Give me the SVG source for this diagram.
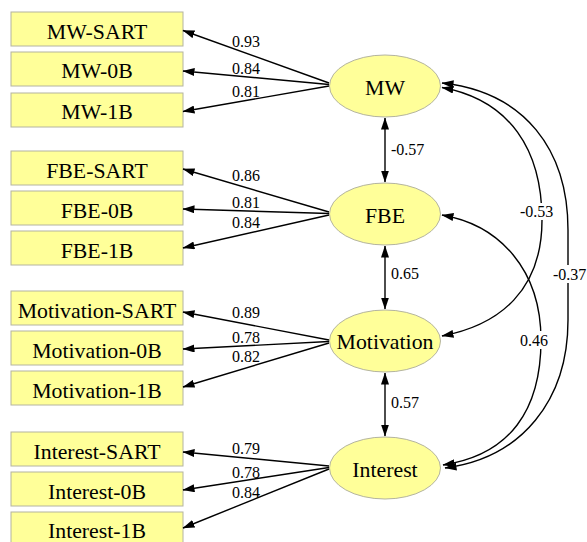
<svg xmlns="http://www.w3.org/2000/svg" width="587" height="542" viewBox="0 0 587 542">
<style>
.box{fill:#ffff99;stroke:#b4b4a0;stroke-width:1}
.ell{fill:#ffff99;stroke:#b4b4a0;stroke-width:1}
.nt{font-family:'Liberation Serif','Tinos','Times New Roman','DejaVu Serif',serif;font-size:21.8px;fill:#000;text-anchor:middle}
.el{font-family:'Liberation Serif','Tinos','Times New Roman','DejaVu Serif',serif;font-size:16px;fill:#000}
.e{fill:none;stroke:#000;stroke-width:1.4;marker-end:url(#ah)}
.d{fill:none;stroke:#000;stroke-width:1.4;marker-end:url(#ah);marker-start:url(#ah)}
.bg{fill:#fff}
</style>
<defs>
<marker id="ah" viewBox="0 0 12 8" refX="11.5" refY="4" markerWidth="12" markerHeight="8" markerUnits="userSpaceOnUse" orient="auto-start-reverse">
<path d="M0,0 L12,4 L0,8 z" fill="#000"/>
</marker>
</defs>
<rect width="587" height="542" fill="#fff"/>

<g id="n-mw-sart"><rect class="box" x="11" y="12" width="172" height="34"/><text class="nt" font-family="Liberation Serif, serif" x="97" y="39">MW-SART</text></g>
<g id="n-mw-0b"><rect class="box" x="11" y="52" width="172" height="34"/><text class="nt" font-family="Liberation Serif, serif" x="97" y="78">MW-0B</text></g>
<g id="n-mw-1b"><rect class="box" x="11" y="93" width="172" height="34"/><text class="nt" font-family="Liberation Serif, serif" x="97" y="119">MW-1B</text></g>

<g id="n-fbe-sart"><rect class="box" x="11" y="151" width="172" height="34"/><text class="nt" x="97" y="178">FBE-SART</text></g>
<g id="n-fbe-0b"><rect class="box" x="11" y="191" width="172" height="34"/><text class="nt" x="97" y="218">FBE-0B</text></g>
<g id="n-fbe-1b"><rect class="box" x="11" y="231" width="172" height="34"/><text class="nt" x="97" y="258">FBE-1B</text></g>

<g id="n-mot-sart"><rect class="box" x="11" y="291" width="172" height="34"/><text class="nt" x="97" y="318">Motivation-SART</text></g>
<g id="n-mot-0b"><rect class="box" x="11" y="331" width="172" height="34"/><text class="nt" x="97" y="358">Motivation-0B</text></g>
<g id="n-mot-1b"><rect class="box" x="11" y="371" width="172" height="34"/><text class="nt" x="97" y="398">Motivation-1B</text></g>

<g id="n-int-sart"><rect class="box" x="11" y="432" width="172" height="34"/><text class="nt" x="97" y="459">Interest-SART</text></g>
<g id="n-int-0b"><rect class="box" x="11" y="472" width="172" height="34"/><text class="nt" x="97" y="499">Interest-0B</text></g>
<g id="n-int-1b"><rect class="box" x="11" y="512" width="172" height="34"/><text class="nt" x="97" y="537.5">Interest-1B</text></g>

<g id="n-mw"><ellipse class="ell" cx="385" cy="86" rx="55.5" ry="31"/><text class="nt" x="385" y="95">MW</text></g>
<g id="n-fbe"><ellipse class="ell" cx="385" cy="214" rx="55.5" ry="31"/><text class="nt" x="385" y="223">FBE</text></g>
<g id="n-mot"><ellipse class="ell" cx="385" cy="341" rx="55.5" ry="31"/><text class="nt" x="385" y="349">Motivation</text></g>
<g id="n-int"><ellipse class="ell" cx="385" cy="468" rx="55.5" ry="31"/><text class="nt" x="385" y="477">Interest</text></g>

<g id="edges">
<path class="e" d="M329,83 L183,30.5"/>
<path class="e" d="M329,84.5 L183,71"/>
<path class="e" d="M329,86 L183,111.5"/>
<path class="e" d="M329,212 L183,169"/>
<path class="e" d="M329,213.5 L183,209"/>
<path class="e" d="M329,215 L183,248"/>
<path class="e" d="M329,340 L183,312"/>
<path class="e" d="M329,341.5 L183,349"/>
<path class="e" d="M329,343 L183,387"/>
<path class="e" d="M329,466 L183,452"/>
<path class="e" d="M329,467.5 L183,490"/>
<path class="e" d="M329,469 L183,528"/>

<path class="d" d="M385,118 L385,182"/>
<path class="d" d="M385,246 L385,309"/>
<path class="d" d="M385,373 L385,436"/>

<path class="e" d="M542,220 C542,290 500,325 442,336"/>
<path class="e" d="M542,220 C542,150 510,100 442,87.5"/>
<path class="e" d="M541,340 C541,270 500,225 442,215"/>
<path class="e" d="M541,340 C541,410 510,455 443,465"/>
<path class="e" d="M568,250 L568,230 C568,150 525,92 442,83"/>
<path class="e" d="M568,250 L568,320 C568,400 522,458 445,468"/>

<text class="el" x="232" y="46.5">0.93</text>
<text class="el" x="232" y="74">0.84</text>
<text class="el" x="232" y="97.3">0.81</text>
<text class="el" x="232" y="181">0.86</text>
<text class="el" x="232" y="207.7">0.81</text>
<text class="el" x="232" y="227.7">0.84</text>
<text class="el" x="232" y="317.7">0.89</text>
<text class="el" x="232" y="343.3">0.78</text>
<text class="el" x="232" y="361.7">0.82</text>
<text class="el" x="232" y="454.3">0.79</text>
<text class="el" x="232" y="478.3">0.78</text>
<text class="el" x="232" y="498.3">0.84</text>
<text class="el" x="391" y="155">-0.57</text>
<text class="el" x="391" y="279">0.65</text>
<text class="el" x="391" y="408">0.57</text>
<rect class="bg" x="519" y="203" width="35" height="17"/>
<text class="el" x="520" y="217">-0.53</text>
<rect class="bg" x="519" y="331" width="30" height="18"/>
<text class="el" x="520" y="346">0.46</text>
<rect class="bg" x="552" y="265" width="35" height="18"/>
<text class="el" x="553" y="280">-0.37</text>
</g>
</svg>
